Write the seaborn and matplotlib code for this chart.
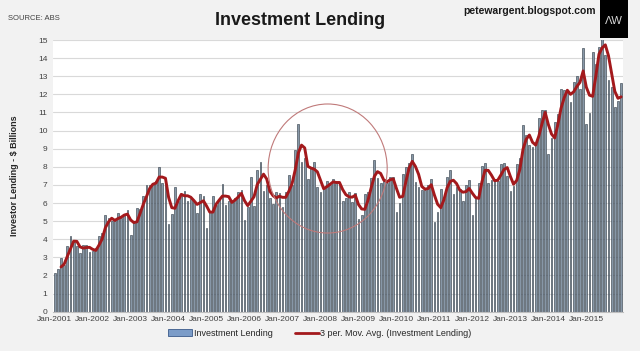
import numpy as np
import pandas as pd
import matplotlib.pyplot as plt
import seaborn as sns
from matplotlib.patches import Ellipse, Rectangle, Patch
from matplotlib.lines import Line2D

# Monthly investment lending, $ billions, Jan-2001 .. Dec-2015
y2001 = [2.12, 2.34, 2.95, 2.6, 3.63, 4.18, 3.87, 3.6, 3.26, 3.68, 3.68, 3.3]
y2002 = [3.35, 3.5, 4.18, 4.37, 5.34, 5.16, 4.98, 4.98, 5.47, 5.2, 5.34, 5.62]
y2003 = [4.24, 4.9, 5.75, 5.65, 6.4, 7.0, 7.0, 7.1, 7.2, 8.0, 7.1, 7.0]
y2004 = [4.83, 5.4, 6.9, 6.1, 6.44, 6.66, 6.1, 6.2, 6.1, 5.47, 6.5, 6.4]
y2005 = [4.6, 5.5, 6.4, 5.9, 6.2, 7.05, 5.9, 6.1, 6.1, 6.3, 6.6, 6.7]
y2006 = [5.07, 5.8, 7.42, 5.84, 7.8, 8.29, 6.69, 7.0, 6.26, 5.95, 6.63, 6.54]
y2007 = [5.77, 6.63, 7.55, 7.0, 8.93, 10.37, 8.29, 8.47, 7.31, 8.01, 8.29, 6.87]
y2008 = [6.6, 6.9, 7.2, 7.0, 7.3, 7.1, 7.0, 6.13, 6.26, 6.63, 6.08, 6.57]
y2009 = [5.1, 5.35, 6.5, 6.6, 7.4, 8.4, 7.4, 7.1, 7.3, 7.1, 7.45, 7.45]
y2010 = [5.5, 6.0, 7.6, 8.0, 8.2, 8.7, 7.15, 6.9, 6.7, 6.7, 7.0, 7.33]
y2011 = [4.97, 5.5, 6.76, 6.3, 7.46, 7.83, 6.48, 6.9, 6.76, 6.13, 7.0, 7.27]
y2012 = [5.34, 6.3, 7.13, 8.05, 8.23, 7.13, 7.27, 7.3, 7.2, 8.14, 8.23, 7.5]
y2013 = [6.67, 6.94, 8.14, 8.5, 10.3, 9.76, 9.2, 9.1, 9.3, 10.7, 11.15, 11.15]
y2014 = [8.7, 9.58, 10.5, 10.9, 12.28, 12.25, 12.15, 11.6, 12.67, 13.04, 12.28, 14.55]
y2015 = [10.35, 10.96, 14.36, 13.7, 14.6, 15.4, 14.2, 12.8, 12.4, 11.3, 11.64, 12.65]

lending = (y2001 + y2002 + y2003 + y2004 + y2005 + y2006 + y2007 + y2008
           + y2009 + y2010 + y2011 + y2012 + y2013 + y2014 + y2015)
months = pd.date_range("2001-01-01", periods=len(lending), freq="MS")

df = pd.DataFrame({"idx": np.arange(len(lending)), "month": months, "value": lending})
df["ma"] = df["value"].rolling(3).mean()

sns.set_style("white")
plt.rcParams["font.family"] = ["Liberation Sans Narrow", "Liberation Sans", "DejaVu Sans"]

fig = plt.figure(figsize=(6.4, 3.51), dpi=100, facecolor="#f2f2f2")
ax = fig.add_axes([0.083, 0.112, 0.89, 0.774])
ax.set_facecolor("white")

bar_face = "#8797a7"
bar_edge = "#2b3742"
line_col = "#a3191c"

sns.barplot(data=df, x="idx", y="value", color=bar_face, edgecolor=bar_edge,
            linewidth=0.4, width=0.55, saturation=1, ax=ax, zorder=2)
sns.lineplot(x=df["idx"], y=df["ma"], color=line_col, linewidth=2.1, ax=ax, zorder=3)

ax.set_xlim(-0.5, len(lending) - 0.5)
ax.set_ylim(0, 15)
ax.set_yticks(range(0, 16))
ax.tick_params(axis="y", labelsize=6, colors="#404040", length=0, pad=4)
jan = df.index[df["month"].dt.month == 1]
ax.set_xticks(jan)
ax.set_xticklabels([d.strftime("%b-%Y") for d in df.loc[jan, "month"]])
ax.tick_params(axis="x", labelsize=6, colors="#404040", length=0, pad=3)
ax.yaxis.grid(True, color="#d9d9d9", linewidth=0.8, zorder=0)
ax.set_axisbelow(True)
for s in ["top", "right", "left"]:
    ax.spines[s].set_visible(False)
ax.spines["bottom"].set_color("#bfbfbf")
ax.set_xlabel("")
ax.set_ylabel("")

# highlight circle around the 2007-2009 period
ax.add_patch(Ellipse((0.482, 0.527), 0.209, 0.475, transform=ax.transAxes,
                     fill=False, edgecolor="#c07a7a", linewidth=0.8, zorder=4))

fig.text(0.022, 0.5, "Investor Lending - $ Billions", rotation=90, ha="center",
         va="center", fontsize=6.5, fontweight="bold", color="#262626")
fig.text(0.012, 0.946, "SOURCE: ABS", fontsize=5.5, color="#404040", va="center")
fig.text(0.469, 0.943, "Investment Lending", fontsize=13, fontweight="bold",
         ha="center", va="center", color="#1a1a1a")
fig.text(0.931, 0.969, "petewargent.blogspot.com", fontsize=7.5, fontweight="bold",
         ha="right", va="center", color="#1a1a1a")
fig.patches.append(Rectangle((0.9375, 0.893), 0.043, 0.107, transform=fig.transFigure,
                             facecolor="black", edgecolor="none", zorder=5))
fig.text(0.959, 0.94, "ΛW", fontsize=8, ha="center", va="center", color="#d8d8d8",
         zorder=6)

handles = [Patch(facecolor="#7b9cc8", edgecolor="#3a5a8a", linewidth=0.6),
           Line2D([0], [0], color=line_col, linewidth=2.0)]
fig.legend(handles, ["Investment Lending", "3 per. Mov. Avg. (Investment Lending)"],
           loc="center", bbox_to_anchor=(0.5, 0.05), ncol=2, frameon=False,
           fontsize=6.5, handlelength=2.6, handleheight=0.8, columnspacing=2.5,
           handletextpad=0.2)

fig.savefig("out.png", dpi=100, facecolor=fig.get_facecolor())
